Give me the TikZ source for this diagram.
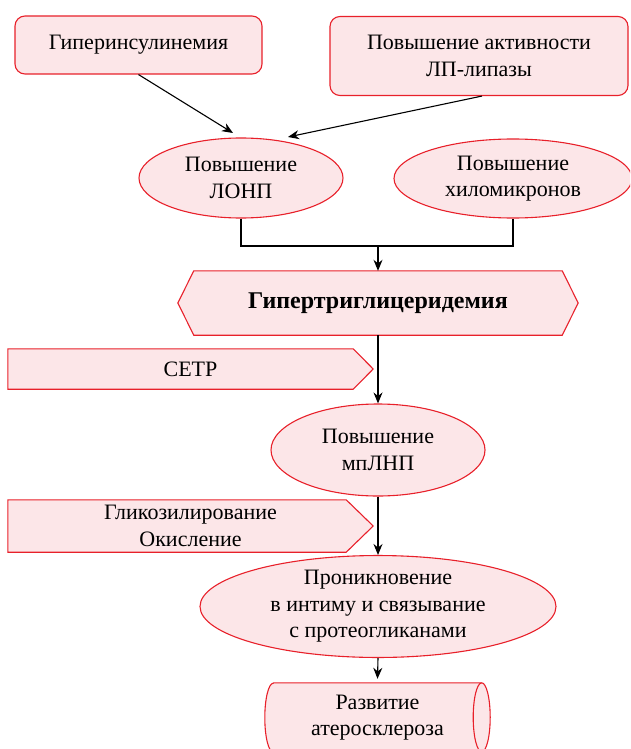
\documentclass[tikz,border=0pt]{standalone}
\usepackage{fontspec}
\setmainfont{Liberation Serif}
\usetikzlibrary{shapes.geometric,arrows.meta,calc,backgrounds}
\definecolor{pinkfill}{RGB}{252,230,232}
\definecolor{redline}{RGB}{232,32,42}
\begin{document}
\begin{tikzpicture}[x=1pt,y=-1pt,
  every node/.style={font=\fontsize{22}{26.5}\selectfont, align=center, inner sep=0pt},
  shp/.style={draw=redline, fill=pinkfill, line width=1.1pt},
  rbox/.style={shp, rounded corners=10pt},
  ell/.style={shp, ellipse},
  conn/.style={line width=1.1pt, draw=black},
  arr/.style={conn, -{Stealth[length=11pt,width=9pt]}}]
\useasboundingbox (0,0) rectangle (630,749);
\clip (0,0) rectangle (630,749);

\node[rbox, minimum width=247pt, minimum height=58pt] (b1) at (138.5,45) {Гиперинсулинемия};
\node[rbox, minimum width=298pt, minimum height=79pt] (b2) at (479,56) {Повышение активности\\ЛП-липазы};

\node[ell, minimum width=204pt, minimum height=80pt] (lonp) at (241,178) {Повышение\\ЛОНП};
\node[ell, minimum width=238pt, minimum height=79pt] (hilo) at (513,178.5) {Повышение\\хиломикронов};

\node[minimum width=400pt, minimum height=64pt, font=\bfseries\fontsize{24}{28}\selectfont] (hyper) at (378,303) {Гипертриглицеридемия};
\node[minimum width=365pt, minimum height=40pt] (cetp) at (190.5,369) {CETP};
\node[ell, minimum width=214pt, minimum height=92pt] (mpl) at (378,450) {Повышение\\мпЛНП};
\node[minimum width=365pt, minimum height=52pt] (glyc) at (190.5,526) {Гликозилирование\\Окисление};
\node[ell, minimum width=356pt, minimum height=91pt] (pron) at (378,606.5) {Проникновение\\в интиму и связывание\\с протеогликанами};
\node[minimum width=225pt, minimum height=69pt] (cyl) at (377.5,717.5) {Развитие\\атеросклероза};

\begin{pgfonlayer}{background}
\draw[shp] (hyper.west) -- ($(hyper.north west)+(16,0)$) -- ($(hyper.north east)+(-16,0)$) -- (hyper.east) -- ($(hyper.south east)+(-16,0)$) -- ($(hyper.south west)+(16,0)$) -- cycle;
\draw[shp] (cetp.north west) -- ($(cetp.north east)+(-20,0)$) -- (cetp.east) -- ($(cetp.south east)+(-20,0)$) -- (cetp.south west) -- cycle;
\draw[shp] (glyc.north west) -- ($(glyc.north east)+(-27,0)$) -- (glyc.east) -- ($(glyc.south east)+(-27,0)$) -- (glyc.south west) -- cycle;
\draw[shp] ($(cyl.north west)+(8.5,0)$) -- ($(cyl.north east)+(-8.5,0)$)
  arc[start angle=-90, end angle=90, x radius=8.5, y radius=34.5]
  -- ($(cyl.south west)+(8.5,0)$)
  arc[start angle=90, end angle=270, x radius=8.5, y radius=34.5] -- cycle;
\draw[draw=redline, line width=1.1pt] ($(cyl.north east)+(-8.5,0)$)
  arc[start angle=-90, end angle=-270, x radius=8.5, y radius=34.5];
\end{pgfonlayer}

\coordinate (t1) at (233,133);
\coordinate (t2) at (288,137);
\coordinate (jn) at (378,246);
\draw[arr] (b1.south) -- (t1);
\draw[arr] ($(b2.south)+(3,0)$) -- (t2);
\draw[conn] (lonp.south) |- (jn) -| (hilo.south);
\draw[arr] (jn) -- (hyper.north);
\draw[arr] (hyper.south) -- (mpl.north);
\draw[arr] (mpl.south) -- (pron.north);
\draw[arr] (pron.south) -- ($(cyl.north)+(0,-4)$);
\end{tikzpicture}
\end{document}
